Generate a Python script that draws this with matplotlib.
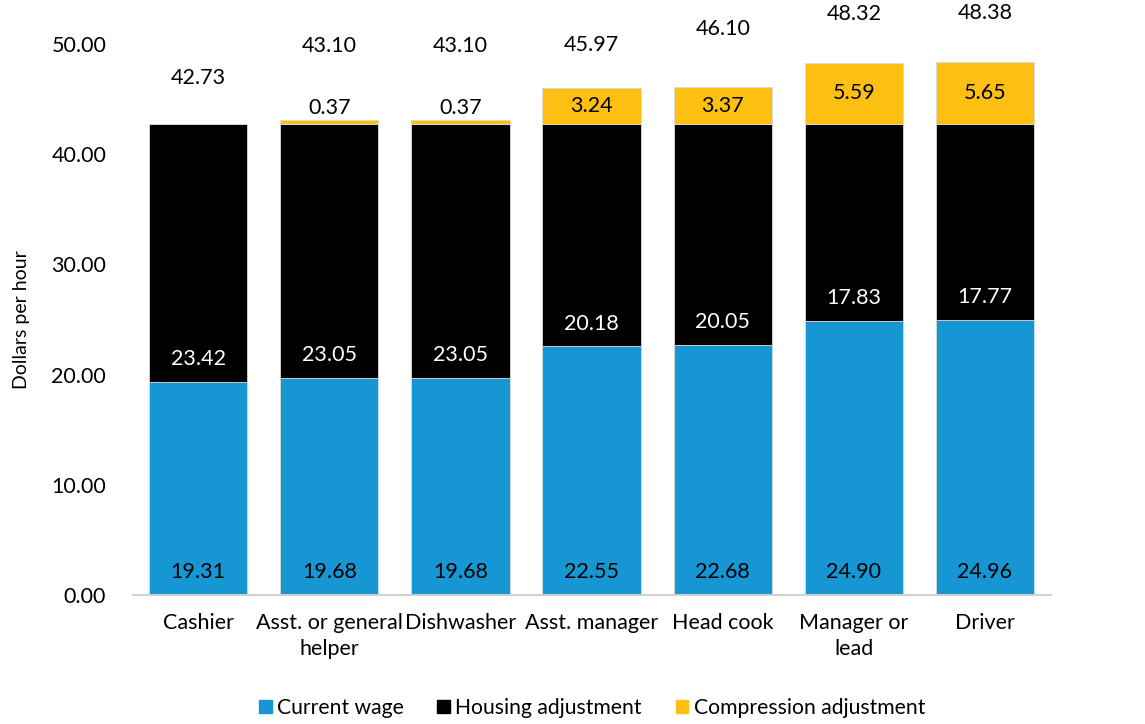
import numpy as np
import matplotlib.pyplot as plt
from matplotlib.patches import Patch

plt.rcParams['font.family'] = ['Lato', 'DejaVu Sans']

# hourly wage components by position
positions = ['Cashier', 'Asst. or general\nhelper', 'Dishwasher', 'Asst. manager',
             'Head cook', 'Manager or\nlead', 'Driver']
current_wage = [19.31, 19.68, 19.68, 22.55, 22.68, 24.90, 24.96]
housing_adj = [23.42, 23.05, 23.05, 20.18, 20.05, 17.83, 17.77]
compression_adj = [0.00, 0.37, 0.37, 3.24, 3.37, 5.59, 5.65]
totals = [42.73, 43.10, 43.10, 45.97, 46.10, 48.32, 48.38]

BLUE = '#1696d2'
BLACK = '#000000'
YELLOW = '#fdbf11'

# gap (in points) between the top of each stack and its total label
total_pad = [33, 53, 53, 31, 42, 35, 35]

fig = plt.figure(figsize=(11.45, 7.24), dpi=100)
ax = fig.add_axes([0.1158, 0.1782, 0.8017, 0.7610])

x = np.arange(len(positions))
w = 0.75
cw = np.array(current_wage)
ha = np.array(housing_adj)
ca = np.array(compression_adj)

ax.bar(x, cw, w, color=BLUE, edgecolor='#d9d9d9', linewidth=0.6, zorder=2)
ax.bar(x, ha, w, bottom=cw, color=BLACK, edgecolor='#d9d9d9', linewidth=0.6, zorder=2)
ax.bar(x, ca, w, bottom=cw + ha, color=YELLOW, edgecolor='#d9d9d9', linewidth=0.6, zorder=2)

fs = 15.5
for i in range(len(x)):
    # inside-base labels
    ax.annotate(f'{cw[i]:.2f}', (x[i], 0), xytext=(0, 16.5), textcoords='offset points',
                ha='center', va='center', fontsize=fs, color='black')
    ax.annotate(f'{ha[i]:.2f}', (x[i], cw[i]), xytext=(0, 16.5), textcoords='offset points',
                ha='center', va='center', fontsize=fs, color='white')
    if ca[i] > 0:
        top = cw[i] + ha[i]
        if ca[i] < 1:
            ax.annotate(f'{ca[i]:.2f}', (x[i], top + ca[i]), xytext=(0, 9),
                        textcoords='offset points', ha='center', va='center',
                        fontsize=fs, color='black')
        else:
            ax.text(x[i], top + ca[i] / 2, f'{ca[i]:.2f}', ha='center', va='center',
                    fontsize=fs, color='black')
    ax.annotate(f'{totals[i]:.2f}', (x[i], totals[i]), xytext=(0, total_pad[i]),
                textcoords='offset points', ha='center', va='center',
                fontsize=fs, color='black', annotation_clip=False)

ax.set_xlim(-0.5, len(x) - 0.5)
ax.set_ylim(0, 50)
ax.set_yticks(np.arange(0, 51, 10))
ax.set_yticklabels([f'{v:.2f}' for v in np.arange(0, 51, 10)], fontsize=fs)
ax.set_xticks(x)
ax.set_xticklabels(positions, fontsize=fs, linespacing=1.4)
ax.tick_params(axis='both', length=0)
ax.tick_params(axis='y', pad=19)
ax.tick_params(axis='x', pad=13)
for s in ['top', 'right', 'left']:
    ax.spines[s].set_visible(False)
ax.spines['bottom'].set_color('#d0d0d0')
ax.spines['bottom'].set_linewidth(1.5)
ax.set_ylabel('Dollars per hour', fontsize=14, labelpad=15)

handles = [Patch(color=BLUE), Patch(color=BLACK), Patch(color=YELLOW)]
fig.legend(handles, ['Current wage', 'Housing adjustment', 'Compression adjustment'],
           loc='lower center', bbox_to_anchor=(0.517, -0.018), ncol=3, frameon=False,
           fontsize=15.2, handlelength=0.6, handleheight=0.6, handletextpad=0.25,
           columnspacing=1.6)

fig.savefig('out.png', dpi=100)
